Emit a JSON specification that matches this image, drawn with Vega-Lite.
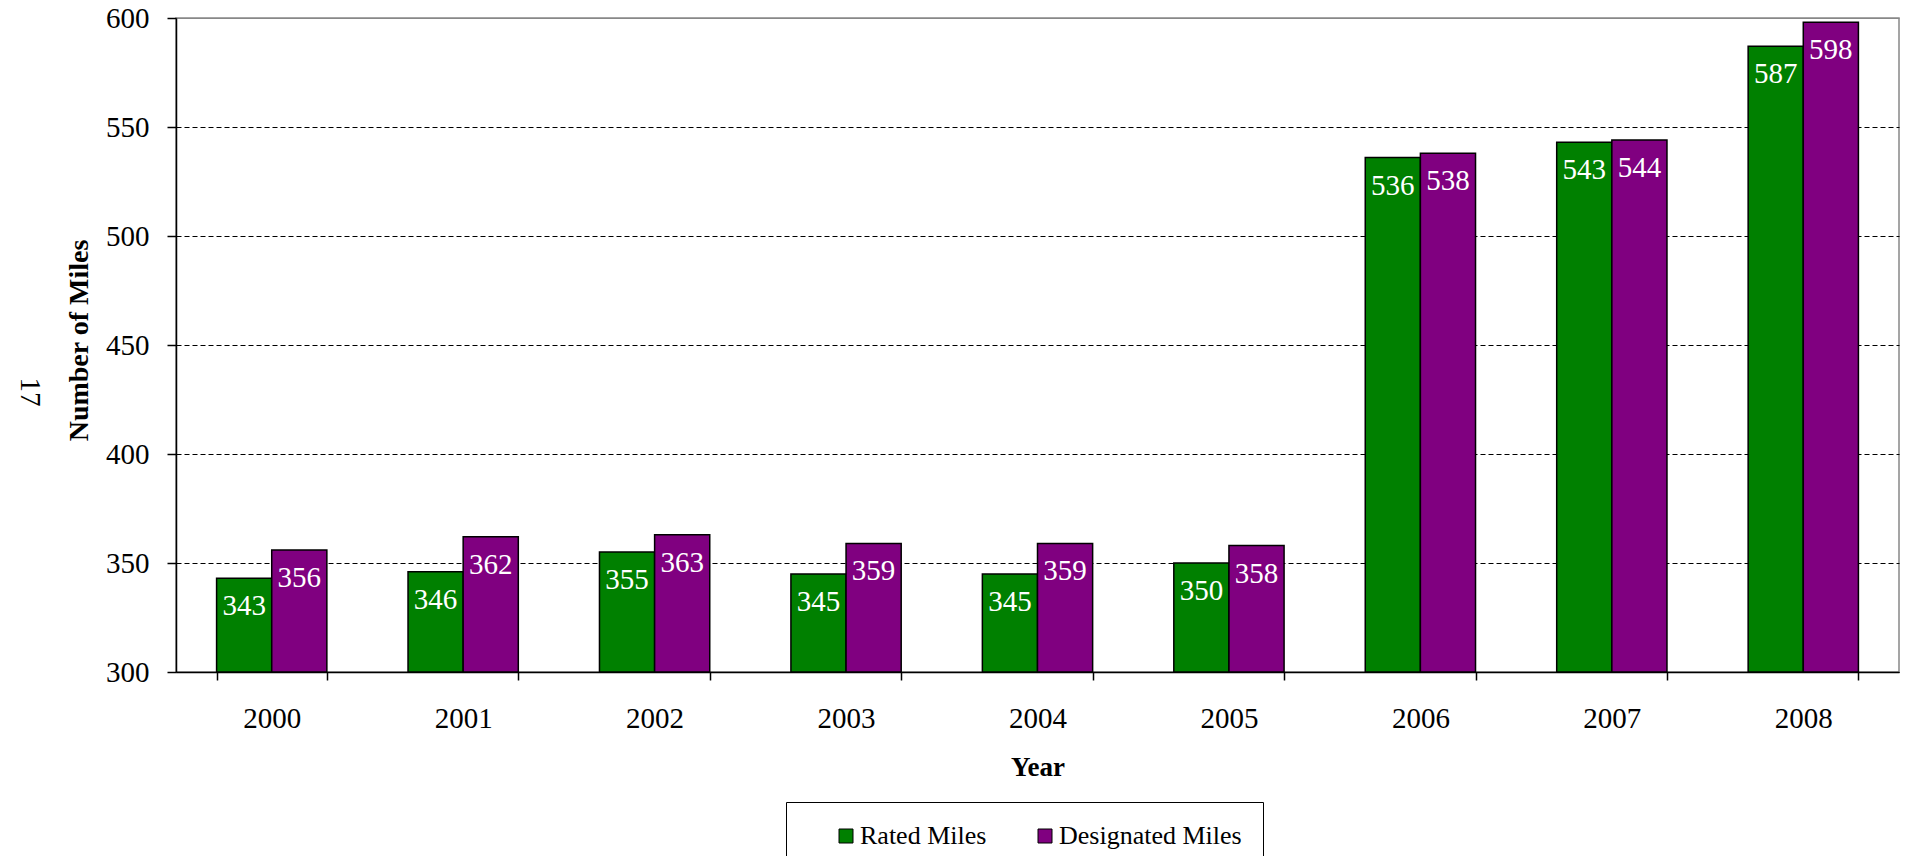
{
  "$schema": "https://vega.github.io/schema/vega-lite/v6.json",
  "autosize": "none",
  "padding": {"left": 176, "top": 18, "right": 7, "bottom": 184},
  "width": 1723,
  "height": 654,
  "background": "white",
  "config": {
    "font": "Liberation Serif",
    "view": {"stroke": "#888888", "strokeWidth": 1.5}
  },
  "title": {
    "text": "17",
    "orient": "left",
    "angle": 90,
    "anchor": "middle",
    "frame": "group",
    "font": "Liberation Serif",
    "fontSize": 29,
    "fontWeight": "normal",
    "color": "black",
    "baseline": "alphabetic",
    "offset": 15,
    "dx": 47
  },
  "data": {
    "values": [
      {"year": "2000", "series": "Rated Miles", "value": 343},
      {"year": "2000", "series": "Designated Miles", "value": 356},
      {"year": "2001", "series": "Rated Miles", "value": 346},
      {"year": "2001", "series": "Designated Miles", "value": 362},
      {"year": "2002", "series": "Rated Miles", "value": 355},
      {"year": "2002", "series": "Designated Miles", "value": 363},
      {"year": "2003", "series": "Rated Miles", "value": 345},
      {"year": "2003", "series": "Designated Miles", "value": 359},
      {"year": "2004", "series": "Rated Miles", "value": 345},
      {"year": "2004", "series": "Designated Miles", "value": 359},
      {"year": "2005", "series": "Rated Miles", "value": 350},
      {"year": "2005", "series": "Designated Miles", "value": 358},
      {"year": "2006", "series": "Rated Miles", "value": 536},
      {"year": "2006", "series": "Designated Miles", "value": 538},
      {"year": "2007", "series": "Rated Miles", "value": 543},
      {"year": "2007", "series": "Designated Miles", "value": 544},
      {"year": "2008", "series": "Rated Miles", "value": 587},
      {"year": "2008", "series": "Designated Miles", "value": 598}
    ]
  },
  "encoding": {
    "x": {
      "field": "year",
      "type": "nominal",
      "scale": {"paddingInner": 0.424, "paddingOuter": 0.212},
      "axis": {
        "title": "Year",
        "titleFont": "Liberation Serif",
        "titleFontSize": 27,
        "titleFontWeight": "bold",
        "titleColor": "black",
        "titleBaseline": "alphabetic",
        "titleY": 103,
        "labelFont": "Liberation Serif",
        "labelFontSize": 29,
        "labelColor": "black",
        "labelAngle": 0,
        "labelBaseline": "alphabetic",
        "labelPadding": 47,
        "tickBand": "extent",
        "tickSize": 8,
        "tickColor": "black",
        "tickWidth": 1.5,
        "domainColor": "black",
        "domainWidth": 1.5,
        "grid": false
      }
    },
    "xOffset": {
      "field": "series",
      "type": "nominal",
      "sort": ["Rated Miles", "Designated Miles"],
      "scale": {"domain": ["Rated Miles", "Designated Miles"], "paddingInner": 0, "paddingOuter": 0}
    },
    "y": {
      "field": "value",
      "type": "quantitative",
      "scale": {"domain": [300, 600], "nice": false, "zero": false},
      "axis": {
        "values": [300, 350, 400, 450, 500, 550, 600],
        "title": "Number of Miles",
        "titleFont": "Liberation Serif",
        "titleFontSize": 28,
        "titleFontWeight": "bold",
        "titleColor": "black",
        "titleAngle": -90,
        "titleAlign": "center",
        "titleBaseline": "alphabetic",
        "titleX": -89,
        "titleY": 322,
        "labelFont": "Liberation Serif",
        "labelFontSize": 29,
        "labelColor": "black",
        "labelPadding": 18,
        "tickSize": 9,
        "tickColor": "black",
        "tickWidth": 1.5,
        "domainColor": "black",
        "domainWidth": 1.5,
        "grid": true,
        "gridWidth": 1,
        "gridColor": {"condition": {"test": "datum.value === 600", "value": "#888888"}, "value": "black"},
        "gridDash": {"condition": {"test": "datum.value === 600", "value": []}, "value": [5, 3]}
      }
    }
  },
  "layer": [
    {
      "mark": {"type": "bar", "stroke": "black", "strokeWidth": 1.5, "opacity": 1},
      "encoding": {
        "y2": {"datum": 300},
        "color": {
          "field": "series",
          "type": "nominal",
          "scale": {"domain": ["Rated Miles", "Designated Miles"], "range": ["#008000", "#800080"]},
          "legend": {
            "orient": "none",
            "legendX": 610,
            "legendY": 784,
            "direction": "horizontal",
            "title": null,
            "labelFont": "Liberation Serif",
            "labelFontSize": 26,
            "labelColor": "black",
            "labelLimit": 500,
            "symbolType": "square",
            "symbolSize": 196,
            "symbolStrokeColor": "black",
            "symbolStrokeWidth": 1,
            "symbolOpacity": 1,
            "fillColor": "white",
            "strokeColor": "black",
            "padding": 21,
            "columnPadding": 19,
            "symbolOffset": 26,
            "labelOffset": 1
          }
        }
      }
    },
    {
      "mark": {"type": "text", "color": "white", "font": "Liberation Serif", "fontSize": 29, "baseline": "middle", "align": "center", "dy": 28},
      "encoding": {
        "text": {"field": "value", "type": "quantitative"}
      }
    }
  ]
}
